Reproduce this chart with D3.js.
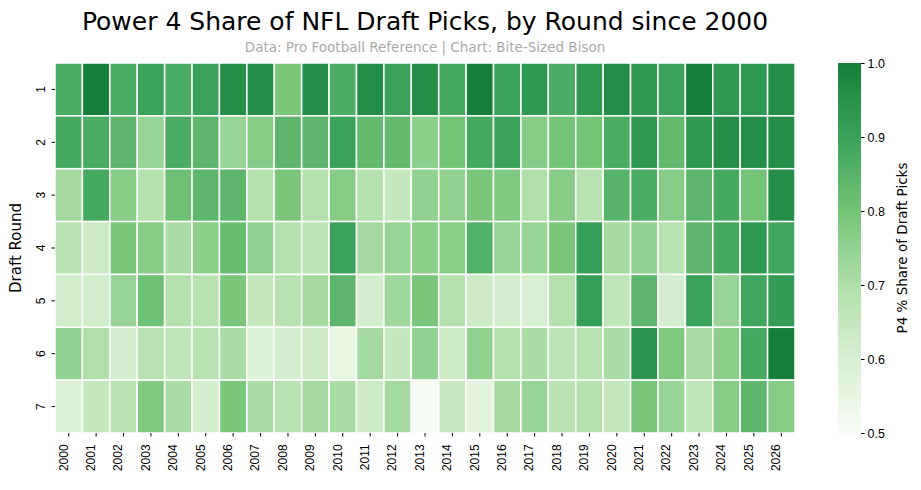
<!DOCTYPE html>
<html><head><meta charset="utf-8">
<script src="https://cdn.jsdelivr.net/npm/d3@7"></script>
<style>body{margin:0;background:#fff;font-family:"DejaVu Sans",sans-serif}</style>
</head><body><svg width="921" height="490"></svg>
<script>
// years across, rounds down
const years = d3.range(2000, 2027).map(String);
const rounds = ["1","2","3","4","5","6","7"];
const round1 = [.87,1.0,.87,.90,.87,.90,.96,.96,.79,.96,.87,.96,.90,.96,.88,1.0,.90,.93,.87,.93,.96,.93,.90,1.0,.93,.93,.96];
const round2 = [.88,.87,.84,.74,.87,.84,.74,.77,.84,.84,.90,.83,.83,.76,.80,.88,.90,.77,.80,.80,.87,.93,.83,.93,.96,.96,.96];
const round3 = [.72,.88,.77,.69,.81,.84,.84,.69,.79,.69,.77,.69,.65,.75,.75,.79,.78,.70,.77,.68,.85,.87,.77,.84,.88,.80,.96];
const round4 = [.68,.63,.79,.77,.71,.76,.82,.75,.69,.67,.90,.72,.74,.76,.76,.86,.74,.74,.79,.91,.72,.75,.68,.84,.88,.93,.89];
const round5 = [.62,.62,.74,.81,.69,.68,.79,.65,.68,.72,.84,.61,.73,.79,.69,.63,.61,.60,.69,.91,.66,.84,.61,.90,.74,.89,.92];
const round6 = [.75,.70,.61,.68,.66,.68,.71,.58,.61,.63,.55,.72,.65,.75,.63,.75,.69,.71,.67,.68,.71,.94,.78,.71,.76,.88,1.0];
const round7 = [.58,.65,.68,.78,.71,.61,.79,.71,.68,.72,.71,.63,.72,.50,.64,.56,.72,.74,.68,.69,.65,.79,.74,.66,.77,.84,.77];
const shares = [round1, round2, round3, round4, round5, round6, round7];
const cbTicks = [0.5, 0.6, 0.7, 0.8, 0.9, 1.0];

const cells = [];
shares.forEach((row, i) => row.forEach((v, j) => cells.push({round: rounds[i], year: years[j], v: v})));

const svg = d3.select("svg");
const m = {left: 55, top: 63, right: 795, bottom: 433};

const color = d3.scaleLinear()
  .domain([0.5, 0.6, 0.7, 0.8, 0.9, 1.0])
  .range(["#f7fcf5", "#d8efd2", "#b0dfaa", "#74c477", "#3aa25a", "#157f3b"]);

const x = d3.scaleBand().domain(years).range([m.left, m.right]);
const y = d3.scaleBand().domain(rounds).range([m.top, m.bottom]);

svg.append("g").selectAll("rect").data(cells).enter().append("rect")
  .attr("x", d => x(d.year)).attr("y", d => y(d.round))
  .attr("width", x.bandwidth()).attr("height", y.bandwidth())
  .attr("fill", d => color(d.v))
  .attr("stroke", "white").attr("stroke-width", 1.5);

const xa = svg.append("g").attr("transform", "translate(0," + m.bottom + ")")
  .call(d3.axisBottom(x).tickSize(3.5));
xa.select(".domain").remove();
xa.selectAll("text").attr("font-size", 12).attr("fill", "#000")
  .attr("text-anchor", "end")
  .attr("dx", "-0.45em").attr("dy", "-0.1em").attr("x", 0).attr("y", 0)
  .attr("transform", "translate(0,6) rotate(-90)");

const ya = svg.append("g").attr("transform", "translate(" + m.left + ",0)")
  .call(d3.axisLeft(y).tickSize(3.5));
ya.select(".domain").remove();
ya.selectAll("text").attr("font-size", 12).attr("fill", "#000")
  .attr("text-anchor", "middle").attr("x", 0).attr("y", 0)
  .attr("transform", "translate(-14,0) rotate(-90)").attr("dy", "0.35em");

svg.append("text").attr("transform", "translate(21," + ((m.top + m.bottom) / 2) + ") rotate(-90)")
  .attr("text-anchor", "middle").attr("font-size", 15).text("Draft Round");

svg.append("text").attr("x", 425).attr("y", 30).attr("text-anchor", "middle")
  .attr("font-size", 25).text("Power 4 Share of NFL Draft Picks, by Round since 2000");
svg.append("text").attr("x", 425).attr("y", 52).attr("text-anchor", "middle")
  .attr("font-size", 13.5).attr("fill", "#aaa")
  .text("Data: Pro Football Reference | Chart: Bite-Sized Bison");

// colorbar
const cbX = 838, cbW = 23;
const cy = d3.scaleLinear().domain([0.5, 1.0]).range([m.bottom, m.top]);
const defs = svg.append("defs");
const grad = defs.append("linearGradient").attr("id", "cb")
  .attr("x1", 0).attr("y1", 1).attr("x2", 0).attr("y2", 0);
d3.range(0, 1.001, 0.05).forEach(t => grad.append("stop")
  .attr("offset", t).attr("stop-color", color(0.5 + t * 0.5)));
svg.append("rect").attr("x", cbX).attr("y", m.top).attr("width", cbW)
  .attr("height", m.bottom - m.top).attr("fill", "url(#cb)");
const ca = svg.append("g").attr("transform", "translate(" + (cbX + cbW) + ",0)")
  .call(d3.axisRight(cy).tickValues(cbTicks).tickFormat(d3.format(".1f")).tickSize(3.5));
ca.select(".domain").remove();
ca.selectAll("text").attr("font-size", 12.5).attr("fill", "#000");
svg.append("text").attr("transform", "translate(907," + ((m.top + m.bottom) / 2) + ") rotate(-90)")
  .attr("text-anchor", "middle").attr("font-size", 13.5).text("P4 % Share of Draft Picks");
</script></body></html>
